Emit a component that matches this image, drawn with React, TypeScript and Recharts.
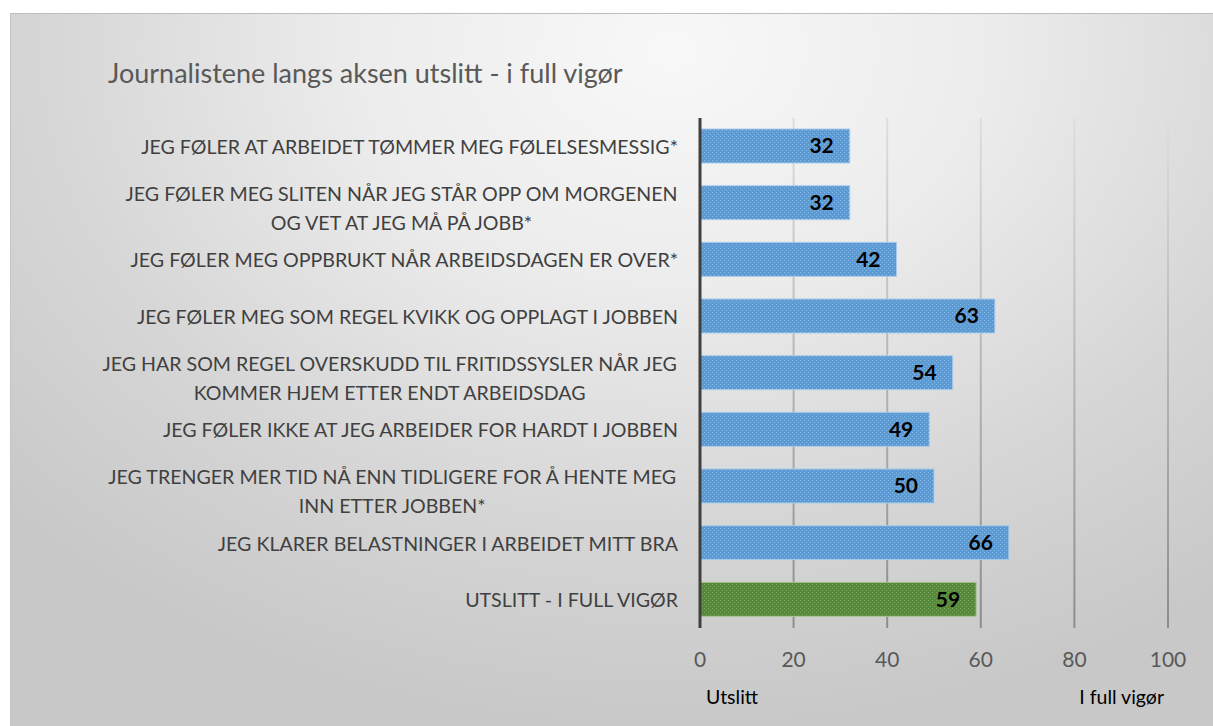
import React from 'react';
import { BarChart, Bar, XAxis, YAxis, CartesianGrid, LabelList, Cell } from 'recharts';

const categories = [
  'JEG FØLER AT ARBEIDET TØMMER MEG FØLELSESMESSIG*',
  'JEG FØLER MEG SLITEN NÅR JEG STÅR OPP OM MORGENEN\nOG VET AT JEG MÅ PÅ JOBB*',
  'JEG FØLER MEG OPPBRUKT NÅR ARBEIDSDAGEN ER OVER*',
  'JEG FØLER MEG SOM REGEL KVIKK OG OPPLAGT I JOBBEN',
  'JEG HAR SOM REGEL OVERSKUDD TIL FRITIDSSYSLER NÅR JEG\nKOMMER HJEM ETTER ENDT ARBEIDSDAG',
  'JEG FØLER IKKE AT JEG ARBEIDER FOR HARDT I JOBBEN',
  'JEG TRENGER MER TID NÅ ENN TIDLIGERE FOR Å HENTE MEG\nINN ETTER JOBBEN*',
  'JEG KLARER BELASTNINGER I ARBEIDET MITT BRA',
  'UTSLITT - I FULL VIGØR',
];
const values = [32, 32, 42, 63, 54, 49, 50, 66, 59];
const isTotal = [false, false, false, false, false, false, false, false, true];
const xTicks = [0, 20, 40, 60, 80, 100];

const title = 'Journalistene langs aksen utslitt - i full vigør';
const leftAxisNote = 'Utslitt';
const rightAxisNote = 'I full vigør';

const data = categories.map((name, i) => ({ name, value: values[i], total: isTotal[i] }));

const FONT = 'Lato, "Open Sans", sans-serif';
const LABEL_SIZE = 19.6;

let canvasCtx: CanvasRenderingContext2D | null = null;
const measure = (s: string) => {
  if (!canvasCtx) {
    const c = document.createElement('canvas');
    canvasCtx = c.getContext('2d');
  }
  if (!canvasCtx) return s.length * LABEL_SIZE * 0.6;
  canvasCtx.font = `${LABEL_SIZE}px Lato`;
  return canvasCtx.measureText(s).width;
};

const YTick = (props: any) => {
  const { x, y, payload } = props;
  const lines = String(payload.value).split('\n');
  const lh = 29;
  const maxW = Math.max(...lines.map(measure));
  const cx = x - maxW / 2;
  const startY = y - ((lines.length - 1) * lh) / 2 + (lines.length > 1 ? 5 : 0);
  return (
    <g>
      {lines.map((l, i) => (
        <text
          key={i}
          x={lines.length > 1 ? cx : x}
          y={startY + i * lh}
          textAnchor={lines.length > 1 ? 'middle' : 'end'}
          dominantBaseline="central"
          fill="#404040"
          fontSize={LABEL_SIZE}
          fontFamily={FONT}
        >
          {l}
        </text>
      ))}
    </g>
  );
};

const XTick = (props: any) => {
  const { x, y, payload } = props;
  return (
    <text x={x} y={y + 39} textAnchor="middle" fill="#595959" fontSize={21} fontFamily={FONT}>
      {payload.value}
    </text>
  );
};

export default function App() {
  return (
    <div style={{ position: 'fixed', left: 0, top: 0, width: 1213, height: 726, background: '#fff', overflow: 'hidden' }}>
      <svg width="0" height="0" style={{ position: 'absolute' }}>
        <defs>
          <pattern id="blueDots" width="4" height="4" patternUnits="userSpaceOnUse">
            <rect width="4" height="4" fill="#5b9bd5" />
            <rect x="0" y="0" width="1" height="1" fill="#8ab8e4" />
            <rect x="2" y="2" width="1" height="1" fill="#8ab8e4" />
          </pattern>
          <pattern id="greenDots" width="4" height="4" patternUnits="userSpaceOnUse">
            <rect width="4" height="4" fill="#568a3a" />
            <rect x="0" y="0" width="1" height="1" fill="#78a45c" />
            <rect x="2" y="2" width="1" height="1" fill="#78a45c" />
          </pattern>
          <linearGradient id="gridGrad" gradientUnits="userSpaceOnUse" x1="0" y1="118" x2="0" y2="628">
            <stop offset="0%" stopColor="#dedede" />
            <stop offset="100%" stopColor="#8c8c8c" />
          </linearGradient>
        </defs>
      </svg>
      <div
        style={{
          position: 'absolute',
          left: 10,
          top: 13,
          width: 1203,
          height: 713,
          boxSizing: 'border-box',
          borderTop: '1px solid #bdbdbd',
          borderLeft: '1px solid #c4c4c4',
          background: 'radial-gradient(ellipse 75% 95% at 55% 5%, #f8f8f8 0%, #ececec 35%, #d6d6d6 70%, #c8c8c8 100%)',
        }}
      />
      <div
        style={{
          position: 'absolute',
          left: 108,
          top: 57,
          fontFamily: FONT,
          fontSize: 27,
          color: '#595959',
          whiteSpace: 'nowrap',
          lineHeight: '32px',
        }}
      >
        {title}
      </div>
      <div style={{ position: 'absolute', left: 706, top: 685, fontFamily: FONT, fontSize: 19.5, color: '#000', lineHeight: '24px' }}>
        {leftAxisNote}
      </div>
      <div style={{ position: 'absolute', right: 1213 - 1164, top: 685, fontFamily: FONT, fontSize: 19.5, color: '#000', lineHeight: '24px', whiteSpace: 'nowrap' }}>
        {rightAxisNote}
      </div>
      <div style={{ position: 'absolute', left: 0, top: 0 }}>
        <BarChart
          width={1213}
          height={726}
          data={data}
          layout="vertical"
          margin={{ top: 118, right: 45, bottom: 58, left: 0 }}
          barCategoryGap={22}
        >
          <CartesianGrid horizontal={false} vertical stroke="url(#gridGrad)" strokeWidth={2} />
          <XAxis
            type="number"
            domain={[0, 100]}
            ticks={xTicks}
            axisLine={false}
            tickLine={false}
            tickSize={0}
            tickMargin={0}
            height={40}
            tick={<XTick />}
            interval={0}
          />
          <YAxis
            type="category"
            dataKey="name"
            width={700}
            axisLine={{ stroke: '#404040', strokeWidth: 3 }}
            tickLine={false}
            tickSize={0}
            tickMargin={22}
            tick={<YTick />}
            interval={0}
          />
          <Bar dataKey="value" isAnimationActive={false} barSize={34}>
            {data.map((d, i) => (
              <Cell
                key={i}
                fill={d.total ? 'url(#greenDots)' : 'url(#blueDots)'}
                stroke={d.total ? '#a8c693' : '#a9cbeb'}
                strokeWidth={1}
              />
            ))}
            <LabelList
              dataKey="value"
              position="insideRight"
              offset={16}
              fill="#000"
              fontWeight="bold"
              fontSize={21}
              fontFamily={FONT}
            />
          </Bar>
        </BarChart>
      </div>
    </div>
  );
}
